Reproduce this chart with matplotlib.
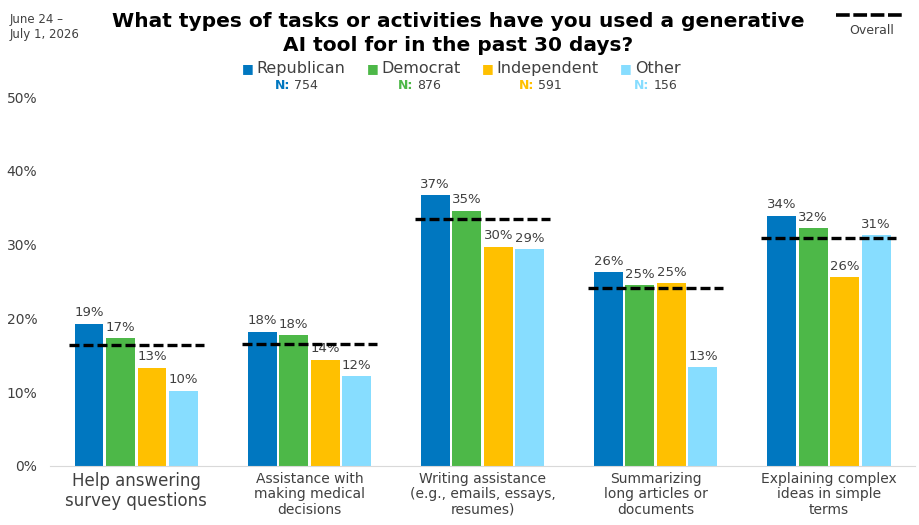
import numpy as np
import matplotlib
matplotlib.use("Agg")
import matplotlib.pyplot as plt

plt.rcParams['font.family'] = ['DejaVu Sans']

# data
categories = ["Help answering\nsurvey questions",
              "Assistance with\nmaking medical\ndecisions",
              "Writing assistance\n(e.g., emails, essays,\nresumes)",
              "Summarizing\nlong articles or\ndocuments",
              "Explaining complex\nideas in simple\nterms"]
groups = ["Republican", "Democrat", "Independent", "Other"]
sample_n = [754, 876, 591, 156]
republican = [19.3, 18.2, 36.7, 26.3, 33.9]
democrat = [17.3, 17.7, 34.6, 24.5, 32.2]
independent = [13.3, 14.4, 29.7, 24.8, 25.6]
other = [10.2, 12.2, 29.4, 13.4, 31.3]
overall = [16.4, 16.5, 33.5, 24.1, 30.9]
labels = [
    ["19%", "18%", "37%", "26%", "34%"],
    ["17%", "18%", "35%", "25%", "32%"],
    ["13%", "14%", "30%", "25%", "26%"],
    ["10%", "12%", "29%", "13%", "31%"],
]
yticks = [0, 10, 20, 30, 40, 50]

colors = ["#0077C0", "#4DB848", "#FFC000", "#87DDFF"]
grey = "#404040"

fig = plt.figure(figsize=(9.2, 5.25), dpi=100)
ax = fig.add_axes([0.054, 0.1124, 0.941, 0.7026])

x = np.arange(len(categories))
step = 0.182
width = 0.167
series = [republican, democrat, independent, other]
for i, vals in enumerate(series):
    pos = x + (i - 1.5) * step
    ax.bar(pos, vals, width, color=colors[i])
    for p, v, t in zip(pos, vals, labels[i]):
        ax.text(p, v + 0.6, t, ha='center', va='bottom', fontsize=9.5, color=grey)

# overall reference lines
for xi, v in zip(x, overall):
    ax.plot([xi - 0.39, xi + 0.39], [v, v], color='black', lw=2.4,
            dashes=(3.0, 1.2), zorder=5)

ax.set_xlim(-0.5, 4.5)
ax.set_ylim(0, 50)
ax.set_yticks(yticks)
ax.set_yticklabels([f"{t}%" for t in yticks], fontsize=10, color=grey)
ax.set_xticks(x)
ax.set_xticklabels(categories, fontsize=10, color=grey, linespacing=1.15)
ax.get_xticklabels()[0].set_fontsize(12)
ax.tick_params(length=0, pad=4)
ax.tick_params(axis='y', pad=9)
for s in ['top', 'right', 'left']:
    ax.spines[s].set_visible(False)
ax.spines['bottom'].set_color('#d9d9d9')

# title and header texts
fig.text(0.498, 0.978, "What types of tasks or activities have you used a generative\nAI tool for in the past 30 days?",
         ha='center', va='top', fontsize=14.5, fontweight='bold', color='black', linespacing=1.35)
fig.text(0.011, 0.975, "June 24 –\nJuly 1, 2026", ha='left', va='top', fontsize=8.5, color=grey)

# legend
leg_x = [0.279, 0.415, 0.540, 0.690]
n_x = [0.299, 0.432, 0.564, 0.689]
for lx, nx, g, c, n in zip(leg_x, n_x, groups, colors, sample_n):
    fig.text(lx - 0.003, 0.869, "■", ha='right', va='center', fontsize=9, color=c)
    fig.text(lx, 0.869, g, ha='left', va='center', fontsize=11.5, color=grey)
    fig.text(nx, 0.838, "N:", ha='left', va='center', fontsize=9,
             color=c, fontweight='bold')
    fig.text(nx + 0.021, 0.838, str(n), ha='left', va='center', fontsize=9, color=grey)

fig.lines.append(plt.Line2D([0.909, 0.984], [0.971, 0.971], transform=fig.transFigure,
                            color='black', lw=2.6, dashes=(3.8, 1.0)))
fig.text(0.947, 0.941, "Overall", ha='center', va='center', fontsize=9, color=grey)

fig.savefig("out.png", dpi=100)
